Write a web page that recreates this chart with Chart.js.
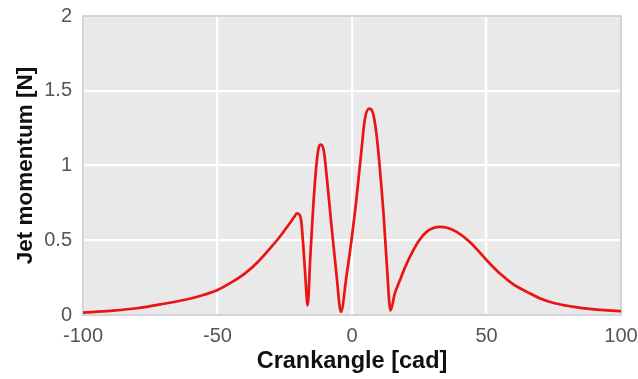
<!DOCTYPE html>
<html>
<head>
<meta charset="utf-8">
<script src="https://cdn.jsdelivr.net/npm/chart.js@4.4.1/dist/chart.umd.min.js"></script>
<style>
  html, body { margin: 0; padding: 0; background: #ffffff; }
  #wrap { width: 638px; height: 379px; position: relative; }
</style>
</head>
<body>
<div id="wrap"><canvas id="c" width="638" height="379"></canvas></div>
<script>
// Jet momentum over crank angle
const crankAngle = [
  -100, -90, -80, -70, -60, -55, -50, -45, -40, -35, -30, -26.9, -23.2, -21.5, -20.5,
  -19.6, -18.9, -18.0, -17.25, -16.5, -15.5, -14.5, -13.3, -12.3, -11.55, -10.5, -9.5,
  -7.7, -5.8, -4.1, -2.1, -0.2, 1.6, 3.5, 4.7, 6.35, 7.8, 9.1, 10.3, 11.8, 13.0,
  14.3, 15.9, 17.8, 20, 22.7, 25, 27.7, 30, 32.7, 35, 38.9, 43.8, 50, 55, 60,
  65, 70, 75, 80, 85, 90, 95, 100
];
const jetMomentum = [
  0.016, 0.028, 0.045, 0.075, 0.11, 0.135, 0.167, 0.216, 0.275, 0.355, 0.455, 0.522, 0.612, 0.655, 0.68,
  0.672, 0.634, 0.433, 0.232, 0.065, 0.388, 0.70, 0.99, 1.125, 1.14, 1.10, 0.946,
  0.61, 0.277, 0.02, 0.254, 0.5, 0.768, 1.10, 1.30, 1.38, 1.35, 1.21, 0.99, 0.656, 0.32,
  0.03, 0.143, 0.232, 0.33, 0.43, 0.50, 0.556, 0.58, 0.589, 0.585, 0.556, 0.489, 0.368, 0.277, 0.205,
  0.155, 0.11, 0.08, 0.062, 0.048, 0.038, 0.031, 0.026
];
const xTicks = [-100, -50, 0, 50, 100];
const yTicks = [0, 0.5, 1, 1.5, 2];

const points = crankAngle.map((x, i) => ({ x: x, y: jetMomentum[i] }));

// grey plot panel with a thin frame
const panel = {
  id: 'panel',
  beforeDraw(chart) {
    const a = chart.chartArea, ctx = chart.ctx;
    ctx.save();
    ctx.fillStyle = '#e9e9e9';
    ctx.fillRect(a.left, a.top, a.right - a.left, a.bottom - a.top);
    ctx.restore();
  },
  beforeDatasetsDraw(chart) {
    const a = chart.chartArea, ctx = chart.ctx;
    ctx.save();
    ctx.strokeStyle = '#d4d4d4';
    ctx.lineWidth = 2;
    ctx.strokeRect(a.left, a.top, a.right - a.left, a.bottom - a.top);
    ctx.restore();
  }
};

const tickFont = { family: '"Liberation Sans", Arial, sans-serif', size: 20 };
const xTitleFont = { family: '"Liberation Sans", Arial, sans-serif', size: 23.5, weight: 'bold' };
const yTitleFont = { family: '"Liberation Sans", Arial, sans-serif', size: 22.5, weight: 'bold' };

new Chart(document.getElementById('c'), {
  type: 'scatter',
  data: {
    datasets: [{
      data: points,
      showLine: true,
      borderColor: '#ec1313',
      borderWidth: 2.7,
      pointRadius: 0,
      tension: 0,
      cubicInterpolationMode: 'monotone',
      fill: false
    }]
  },
  options: {
    responsive: false,
    animation: false,
    devicePixelRatio: 1,
    layout: { padding: { left: 0, right: 17, top: 16, bottom: 0 } },
    plugins: { legend: { display: false }, tooltip: { enabled: false } },
    scales: {
      x: {
        type: 'linear',
        min: -100, max: 100,
        afterBuildTicks(scale) { scale.ticks = xTicks.map(v => ({ value: v })); },
        afterFit(scale) { scale.height = 64; scale.paddingLeft = 0; scale.paddingRight = 0; },
        grid: { color: '#ffffff', lineWidth: 2.2, drawTicks: false },
        border: { display: false },
        ticks: { font: tickFont, color: '#555555', padding: 9, maxRotation: 0, callback: v => String(v) },
        title: { display: true, text: 'Crankangle [cad]', font: xTitleFont, color: '#111111', padding: { top: 3, bottom: 3 } }
      },
      y: {
        type: 'linear',
        min: 0, max: 2,
        afterBuildTicks(scale) { scale.ticks = yTicks.map(v => ({ value: v })); },
        afterFit(scale) { scale.width = 83; scale.paddingTop = 0; scale.paddingBottom = 0; },
        grid: { color: '#ffffff', lineWidth: 2.2, drawTicks: false },
        border: { display: false },
        ticks: { font: tickFont, color: '#555555', padding: 11, callback: v => String(v) },
        title: { display: true, text: 'Jet momentum [N]', font: yTitleFont, color: '#111111', padding: { top: 12, bottom: 0 } }
      }
    }
  },
  plugins: [panel]
});
</script>
</body>
</html>
